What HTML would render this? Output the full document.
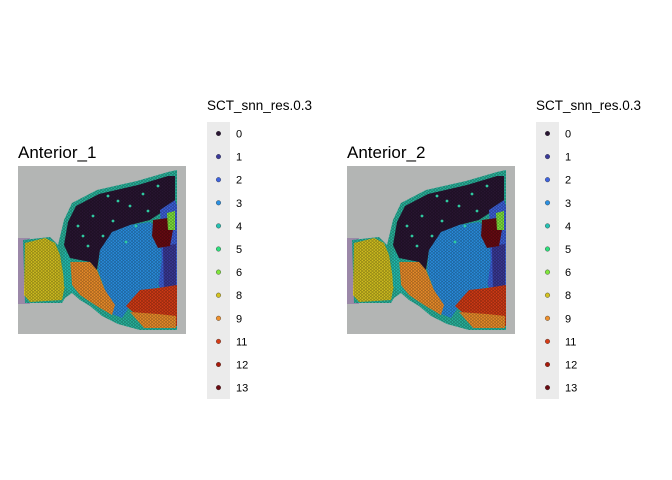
<!DOCTYPE html>
<html><head><meta charset="utf-8"><style>
body{margin:0;background:#fff;}
svg{display:block;font-family:"Liberation Sans",Arial,sans-serif;}
</style></head><body>
<svg id="chart" width="672" height="480" viewBox="0 0 672 480">
<defs>
<pattern id="spots" width="3.4" height="3" patternUnits="userSpaceOnUse">
<circle cx="1.7" cy="1.5" r="1.3" fill="none" stroke="rgba(0,0,0,0.22)" stroke-width="0.5"/>
<circle cx="0" cy="0" r="1.3" fill="none" stroke="rgba(0,0,0,0.22)" stroke-width="0.5"/>
<circle cx="3.4" cy="0" r="1.3" fill="none" stroke="rgba(0,0,0,0.22)" stroke-width="0.5"/>
<circle cx="0" cy="3" r="1.3" fill="none" stroke="rgba(0,0,0,0.22)" stroke-width="0.5"/>
<circle cx="3.4" cy="3" r="1.3" fill="none" stroke="rgba(0,0,0,0.22)" stroke-width="0.5"/>
</pattern>
</defs>
</svg>
<script>
const clusters = ["0","1","2","3","4","5","6","8","9","11","12","13"];
const clusterColors = ["#2a1633","#3b3a9a","#3e63df","#2b90e2","#25c2b2","#2edf7c","#80e63c","#d4c220","#ef902c","#d63c16","#a81a0a","#6b0b12"];
const panels = ["Anterior_1","Anterior_2"];
const panelX = [18, 347];
const NS = "http://www.w3.org/2000/svg";
const svg = document.getElementById("chart");
function mk(tag, attrs, parent){const e=document.createElementNS(NS,tag);for(const k in attrs)e.setAttribute(k,attrs[k]);(parent||svg).appendChild(e);return e;}
const tissue="5,74 32,71 40,79 46,54 54,37 79,24 119,15 150,6 159,4 159,164 122,164 100,158 84,150 72,140 62,134 54,127 47,132 44,137 7,137";
const dark="46,79 50,56 58,40 81,28 120,19 150,10 157,10 157,34 147,44 132,54 112,59 94,69 82,84 79,104 72,96 62,94 52,92";
const blue3="82,84 94,66 112,59 132,56 142,64 144,94 140,122 122,126 112,140 104,152 94,148 87,124 80,104";
const blue2="142,44 157,34 159,40 159,124 142,124 137,104 144,79";
const red13="135,54 150,52 155,64 152,80 140,82 134,70";
const green6="149,47 157,45 157,64 150,64";
const red11="122,124 140,122 159,119 159,160 127,162 117,148 108,140";
const orange9="52,96 72,96 79,104 87,124 97,139 94,149 77,139 62,129 54,119";
const yellow="7,77 27,72 37,77 42,89 47,119 44,134 12,136 6,129";
const teal="46,84 52,92 54,119 60,128 52,126 46,120 45,100";
panels.forEach((name,i)=>{
  const x0=panelX[i], y0=166;
  const g=mk("g",{transform:`translate(${x0},${y0})`});
  
  
  const bg=mk("rect",{x:0,y:0,width:168,height:168,fill:"#b3b5b4"},g);
  
  
  mk("rect",{x:0,y:72,width:12,height:66,fill:"#9b88a8"},g);
  mk("polygon",{points:tissue,fill:"#2ab8a0"},g);
  mk("polygon",{points:dark,fill:clusterColors[0]},g);
  mk("polygon",{points:blue2,fill:clusterColors[2]},g);
  mk("polygon",{points:"145,80 158,78 158,122 146,122",fill:clusterColors[1]},g);
  mk("polygon",{points:blue3,fill:clusterColors[3]},g);
  mk("polygon",{points:red13,fill:clusterColors[11]},g);
  mk("polygon",{points:green6,fill:clusterColors[6]},g);
  mk("polygon",{points:red11,fill:clusterColors[9]},g);
  mk("polygon",{points:"112,146 140,148 158,150 158,162 126,162",fill:clusterColors[8]},g);
  mk("polygon",{points:orange9,fill:clusterColors[8]},g);
  mk("polygon",{points:yellow,fill:clusterColors[7]},g);
  mk("polygon",{points:teal,fill:clusterColors[4]},g);
  mk("polygon",{points:tissue,fill:"url(#spots)"},g);
  const sp=[[60,60],[75,50],[95,55],[112,40],[125,28],[130,45],[100,35],[85,70],[70,80],[140,20],[118,60],[65,70],[108,76],[90,30]];
  sp.forEach(p=>mk("circle",{cx:p[0],cy:p[1],r:1.4,fill:"#2ec9a0"},g));
  const t=mk("text",{x:x0,y:158,"font-size":17,fill:"#000"});
  t.textContent=name;
  
  
  const lx=x0+189;
  const lt=mk("text",{x:lx,y:110,"font-size":13.5,fill:"#000"});
  lt.textContent="SCT_snn_res.0.3";
  
  
  const kb=mk("rect",{x:lx,y:122,width:23,height:277,fill:"#ebebeb"});
  
  
  clusters.forEach((c,j)=>{
    const y=133.5+j*23.1;
    const d=mk("circle",{cx:lx+11.5,cy:y,r:2.3,fill:clusterColors[j],stroke:"#333","stroke-width":0.4});
    
    
    const tx=mk("text",{x:lx+29,y:y+4,"font-size":11,fill:"#000"});
    tx.textContent=c;
    
    
  });
});
</script>
</body></html>
